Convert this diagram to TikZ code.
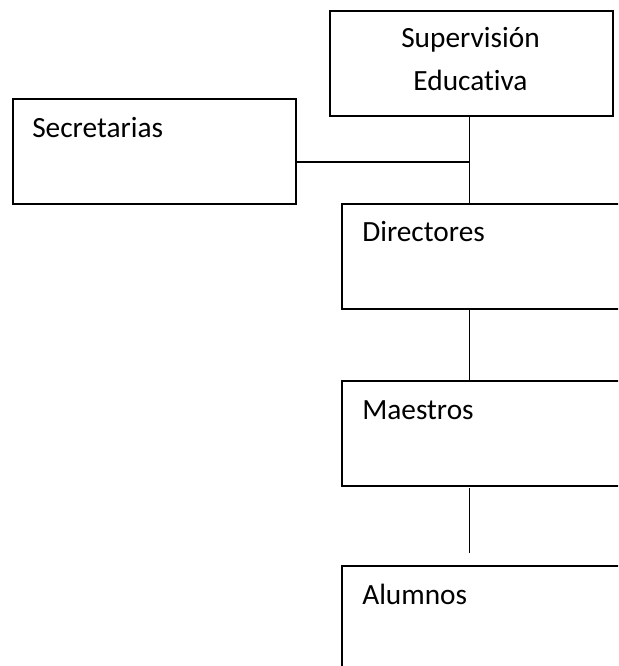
\documentclass[tikz,border=0pt]{standalone}
\usepackage{fontspec}
\setmainfont{Carlito}[Ligatures=NoCommon]
\begin{document}
\begin{tikzpicture}[x=0.75pt,y=-0.75pt,
  box/.style={draw=black, line width=1.5pt, inner sep=0pt, anchor=north west,
    minimum width=212.25pt, minimum height=78.75pt},
  widebox/.style={box, minimum width=240pt},
  lbl/.style={inner sep=0pt, font=\fontsize{22}{32}\selectfont},
  conn/.style={draw=black, line width=1.3pt}]
\useasboundingbox (0,0) rectangle (618,666);
\clip (0,0) rectangle (618,666);
% boxes
\node[box] (sup) at (329,10) {};
\node[box] (sec) at (12,98) {};
\node[widebox] (dir) at (341,203) {};
\node[widebox] (mae) at (341,380) {};
\node[widebox] (alu) at (341,565) {};
% texts
\node[lbl, anchor=base] (supa) at (470.5,48) {Supervisión};
\node[lbl, anchor=base] (supb) at (470.5,91) {Educativa};
\node[lbl, anchor=base west] (sect) at (32,138) {Secretarias};
\node[lbl, anchor=base west] (dirt) at (362,242) {Directores};
\node[lbl, anchor=base west] (maet) at (362,419) {Maestros};
\node[lbl, anchor=base west] (alut) at (362,604) {Alumnos};
% connectors
\coordinate (j) at (469.5,162);
\coordinate (m1) at (469.5,488);
\coordinate (m2) at (469.5,553);
\draw[conn] (sup.south -| j) -- (dir.north -| j);
\draw[conn] (sec.east |- j) -- (j);
\draw[conn] (dir.south -| j) -- (mae.north -| j);
\draw[conn] (m1) -- (m2);
\end{tikzpicture}
\end{document}
